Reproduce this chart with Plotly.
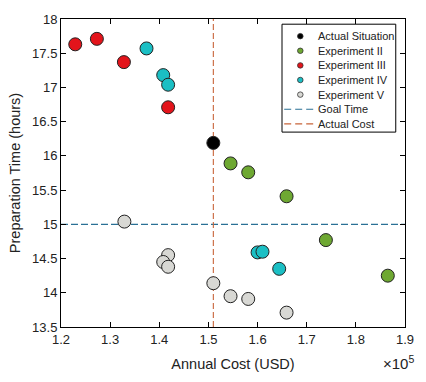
import plotly.graph_objects as go

# Data (annual cost in USD, preparation time in hours)
actual_x = [151000]
actual_y = [16.19]
exp2_x = [154500, 158100, 165900, 173900, 186500]
exp2_y = [15.89, 15.76, 15.41, 14.77, 14.25]
exp3_x = [122900, 127300, 132800, 141800]
exp3_y = [17.63, 17.71, 17.37, 16.71]
exp4_x = [137400, 140800, 141800, 160000, 161000, 164400]
exp4_y = [17.57, 17.18, 17.04, 14.59, 14.60, 14.35]
exp5_x = [132900, 141800, 140800, 141800, 151000, 154500, 158100, 165900]
exp5_y = [15.04, 14.55, 14.45, 14.38, 14.14, 13.95, 13.91, 13.71]
goal_time = 15.0
actual_cost = 151000
x_range = [120000, 190000]
y_range = [13.5, 18]
x_tickvals = [120000, 130000, 140000, 150000, 160000, 170000, 180000, 190000]
x_ticktext = ["1.2", "1.3", "1.4", "1.5", "1.6", "1.7", "1.8", "1.9"]
y_tickvals = [13.5, 14, 14.5, 15, 15.5, 16, 16.5, 17, 17.5, 18]
y_ticktext = ["13.5", "14", "14.5", "15", "15.5", "16", "16.5", "17", "17.5", "18"]

series = [
    ("Actual Situation", actual_x, actual_y, "#000000"),
    ("Experiment II", exp2_x, exp2_y, "#6ea832"),
    ("Experiment III", exp3_x, exp3_y, "#e3141b"),
    ("Experiment IV", exp4_x, exp4_y, "#1bbfc4"),
    ("Experiment V", exp5_x, exp5_y, "#d8d8d4"),
]
goal_color = "#2a7095"
cost_color = "#c8643a"

W, H = 426, 382
ML, MR, MT, MB = 61, 19, 13, 55
PW, PH = W - ML - MR, H - MT - MB


def px2paper(px, py):
    return (px - ML) / PW, (H - MB - py) / PH


fig = go.Figure()

# reference lines
fig.add_trace(go.Scatter(x=x_range, y=[goal_time, goal_time], mode="lines",
                         line=dict(color=goal_color, width=1.1, dash="7px,3px"),
                         showlegend=False, hoverinfo="skip"))
fig.add_trace(go.Scatter(x=[actual_cost, actual_cost], y=y_range, mode="lines",
                         line=dict(color=cost_color, width=1.1, dash="6px,3px"),
                         showlegend=False, hoverinfo="skip"))

draw_order = [4, 3, 1, 2, 0]
for i in draw_order:
    name, xs, ys, col = series[i]
    fig.add_trace(go.Scatter(x=xs, y=ys, mode="markers", name=name,
                             marker=dict(color=col, size=13,
                                         line=dict(color="#222222", width=1)),
                             showlegend=False))

axis_common = dict(showline=True, linecolor="black", linewidth=1, mirror="ticks",
                   ticks="inside", ticklen=5, tickcolor="black", showgrid=False,
                   zeroline=False, tickfont=dict(size=13, color="#222"))

fig.update_layout(
    width=W, height=H,
    margin=dict(l=ML, r=MR, t=MT, b=MB),
    paper_bgcolor="white", plot_bgcolor="white",
    font=dict(family="Liberation Sans, Arial, sans-serif", color="#222"),
    xaxis=dict(range=x_range, tickvals=x_tickvals, ticktext=x_ticktext,
               ticklabelstandoff=0,
               title=dict(text="Annual Cost (USD)", font=dict(size=14.5), standoff=13),
               **axis_common),
    yaxis=dict(range=y_range, tickvals=y_tickvals, ticktext=y_ticktext,
               title=dict(text="Preparation Time (hours)", font=dict(size=14.5), standoff=8),
               **axis_common),
    showlegend=False,
)

# exponent label
ex, ey = px2paper(418, 363)
fig.add_annotation(text="×10<sup>5</sup>", xref="paper", yref="paper",
                   x=ex, y=ey, xanchor="right", yanchor="middle",
                   showarrow=False, font=dict(size=15, color="#222"))

# legend box (drawn manually to match compact layout)
bx0, by0 = px2paper(283.3, 128.3)
bx1, by1 = px2paper(397.7, 18.3)
fig.add_shape(type="rect", xref="paper", yref="paper", x0=bx0, y0=by0, x1=bx1, y1=by1,
              line=dict(color="black", width=1), fillcolor="white", layer="above")

legend_items = [(name, "marker", col) for name, _, _, col in series] + [
    ("Goal Time", "line", goal_color), ("Actual Cost", "line", cost_color)]
row0, step = 30.5, 14.9
for k, (name, kind, col) in enumerate(legend_items):
    yy = row0 + k * step
    if kind == "marker":
        cx0, cy0 = px2paper(301.7 - 2.8, yy + 2.8)
        cx1, cy1 = px2paper(301.7 + 2.8, yy - 2.8)
        fig.add_shape(type="circle", xref="paper", yref="paper",
                      x0=cx0, y0=cy0, x1=cx1, y1=cy1,
                      line=dict(color="#333333", width=0.8), fillcolor=col, layer="above")
    else:
        lx0, ly = px2paper(285.5, yy)
        lx1, _ = px2paper(316.5, yy)
        fig.add_shape(type="line", xref="paper", yref="paper",
                      x0=lx0, y0=ly, x1=lx1, y1=ly,
                      line=dict(color=col, width=1.1, dash="7px,4px"), layer="above")
    tx, ty = px2paper(317.5, yy)
    fig.add_annotation(text=name, xref="paper", yref="paper", x=tx, y=ty,
                       xanchor="left", yanchor="middle", showarrow=False,
                       font=dict(size=11, color="#222"))

fig.write_html("out.html",
               config={"displayModeBar": False},
               post_script="document.body.style.margin='0px';"
                           "document.body.style.overflow='hidden';")
